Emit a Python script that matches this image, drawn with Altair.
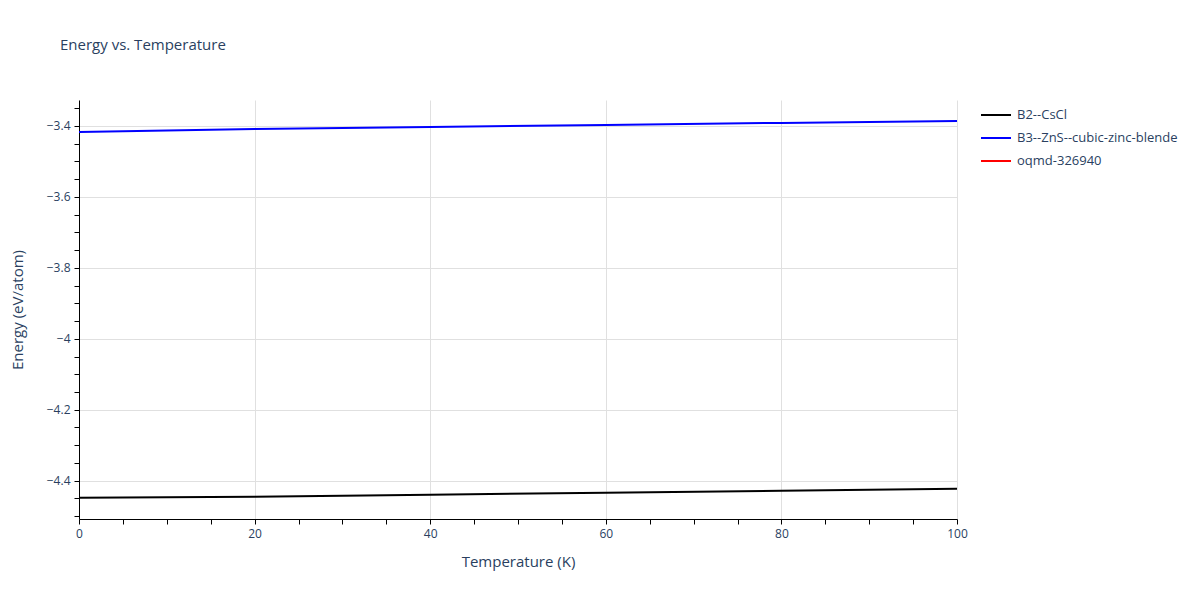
import altair as alt
import pandas as pd

temps = [0, 20, 40, 60, 80, 100]
b2_cscl = [-4.4479, -4.4451, -4.4394, -4.4338, -4.4282, -4.4225]
b3_zns = [-3.4169, -3.4085, -3.4028, -3.3972, -3.3915, -3.3859]
series_names = ["B2--CsCl", "B3--ZnS--cubic-zinc-blende", "oqmd-326940"]
series_colors = ["black", "blue", "red"]

rows = []
for t, v in zip(temps, b2_cscl):
    rows.append({"T": t, "E": v, "s": series_names[0]})
for t, v in zip(temps, b3_zns):
    rows.append({"T": t, "E": v, "s": series_names[1]})
df = pd.DataFrame(rows)

x_ticks = list(range(0, 101, 5))
y_ticks = [round(-4.5 + 0.05 * i, 2) for i in range(0, 24)]

font = "Open Sans"
txt = "#2a3f5f"
major_y = "abs(datum.value*5 - round(datum.value*5)) < 1e-6"

chart = alt.Chart(df).mark_line(strokeWidth=2).encode(
    x=alt.X("T:Q", title="Temperature (K)",
            scale=alt.Scale(domain=[0, 100], nice=False, zero=False),
            axis=alt.Axis(values=x_ticks,
                          labelExpr="datum.value % 20 === 0 ? datum.label : ''",
                          gridOpacity={"condition": {"test": "datum.value % 20 === 0", "value": 1}, "value": 0},
                          format="d", titlePadding=15, labelFlush=False)),
    y=alt.Y("E:Q", title="Energy (eV/atom)",
            scale=alt.Scale(domain=[-4.508, -3.327], nice=False, zero=False),
            axis=alt.Axis(values=y_ticks, format="~g",
                          labelExpr=major_y + " ? datum.label : ''",
                          gridOpacity={"condition": {"test": major_y, "value": 1}, "value": 0},
                          titlePadding=21)),
    color=alt.Color("s:N", scale=alt.Scale(domain=series_names, range=series_colors),
                    legend=alt.Legend(title=None, orient="none", legendX=901, legendY=-1,
                                      symbolType="stroke", symbolStrokeWidth=2, symbolSize=900,
                                      labelFont=font, labelFontSize=13, labelColor=txt,
                                      labelLimit=400, rowPadding=-7, labelOffset=5)),
).properties(
    width=878, height=419,
    title=alt.TitleParams("Energy vs. Temperature", anchor="start", frame="group", dx=-19, offset=46,
                          font=font, fontSize=15, fontWeight="normal", color=txt),
    autosize=alt.AutoSizeParams(type="none"),
    padding={"left": 71, "top": 92, "right": 235, "bottom": 73},
    background="white",
).configure_view(stroke=None).configure_axis(
    domainColor="black", tickColor="black", tickSize=5, gridColor="#e0e0e0",
    labelFont=font, labelFontSize=12, labelColor=txt, titleFont=font, titleFontSize=15,
    titleColor=txt, titleFontWeight="normal", labelPadding=4,
)

chart.save("out.html", embed_options={"renderer": "svg", "actions": False})
